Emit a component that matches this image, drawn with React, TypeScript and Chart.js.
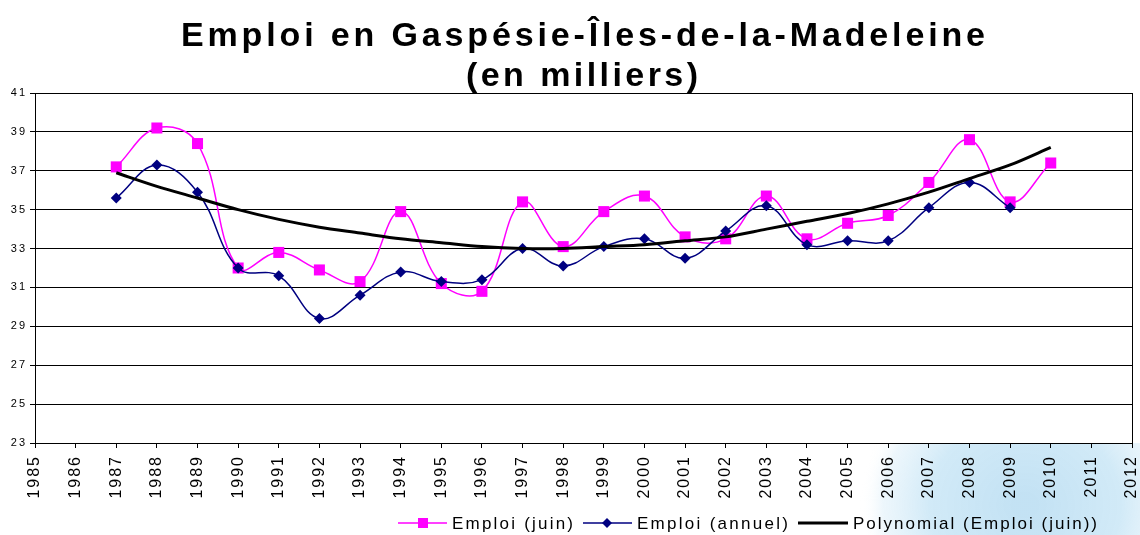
import React, { useEffect, useRef } from 'react';
import { Chart, registerables } from 'chart.js';

Chart.register(...registerables);

// ---- data ----
const years = [1987, 1988, 1989, 1990, 1991, 1992, 1993, 1994, 1995, 1996, 1997, 1998, 1999, 2000, 2001, 2002, 2003, 2004, 2005, 2006, 2007, 2008, 2009, 2010];
const emploiJuin = [37.2, 39.2, 38.4, 32.0, 32.8, 31.9, 31.3, 34.9, 31.2, 30.8, 35.4, 33.1, 34.9, 35.7, 33.6, 33.5, 35.7, 33.5, 34.3, 34.7, 36.4, 38.6, 35.4, 37.4];
const emploiAnnuel = [35.6, 37.3, 35.9, 32.0, 31.6, 29.4, 30.6, 31.8, 31.3, 31.4, 33.0, 32.1, 33.1, 33.5, 32.5, 33.9, 35.2, 33.2, 33.4, 33.4, 35.1, 36.4, 35.1];
const polyTrend = [36.9, 36.2, 35.6, 35.0, 34.5, 34.1, 33.8, 33.5, 33.3, 33.1, 33.0, 33.0, 33.1, 33.2, 33.4, 33.6, 34.0, 34.4, 34.8, 35.3, 35.9, 36.6, 37.3, 38.2];
const xMin = 1985;
const xMax = 2012;
const yMin = 23;
const yMax = 41;
const yStep = 2;

const titleLines = ['Emploi en Gaspésie-Îles-de-la-Madeleine', '(en milliers)'];
const legendLabels = ['Emploi (juin)', 'Emploi (annuel)', 'Polynomial (Emploi (juin))'];

const PINK = '#FF00FF';
const NAVY = '#000080';
const FONT = "'Liberation Sans', Arial, sans-serif";

function drawFitted(ctx: CanvasRenderingContext2D, text: string, x: number, y: number, targetW: number) {
  (ctx as any).letterSpacing = '0px';
  const w = ctx.measureText(text).width;
  const n = Array.from(text).length;
  const s = (targetW - w) / Math.max(1, n - 1);
  (ctx as any).letterSpacing = s + 'px';
  ctx.fillText(text, x, y);
  (ctx as any).letterSpacing = '0px';
}

const decorPlugin = {
  id: 'decor',
  beforeDraw(chart: any) {
    const ctx: CanvasRenderingContext2D = chart.ctx;
    const ca = chart.chartArea;
    ctx.save();
    // faint watermark (bottom right, below the plot)
    ctx.beginPath();
    ctx.rect(0, ca.bottom, 1140, 535 - ca.bottom);
    ctx.clip();
    ctx.translate(1025, 505);
    ctx.scale(1.1, 1);
    const g = ctx.createRadialGradient(0, 0, 10, 0, 0, 150);
    g.addColorStop(0, 'rgba(175,216,240,0.75)');
    g.addColorStop(0.55, 'rgba(190,225,244,0.7)');
    g.addColorStop(0.85, 'rgba(215,236,248,0.45)');
    g.addColorStop(1, 'rgba(255,255,255,0)');
    ctx.fillStyle = g;
    ctx.beginPath();
    ctx.arc(0, 0, 150, 0, Math.PI * 2);
    ctx.fill();
    ctx.restore();
    ctx.save();
    ctx.fillStyle = '#ffffff';
    ctx.fillRect(ca.left, ca.top, ca.right - ca.left, ca.bottom - ca.top);
    ctx.restore();
    (ctx as any).letterSpacing = '2px';
  },
  afterDraw(chart: any) {
    const ctx: CanvasRenderingContext2D = chart.ctx;
    const ca = chart.chartArea;
    ctx.save();
    (ctx as any).letterSpacing = '0px';
    // frame
    ctx.strokeStyle = '#000';
    ctx.lineWidth = 1;
    ctx.beginPath();
    ctx.moveTo(Math.round(ca.right) + 0.5, ca.top);
    ctx.lineTo(Math.round(ca.right) + 0.5, ca.bottom);
    ctx.stroke();

    // title
    ctx.fillStyle = '#000';
    ctx.textAlign = 'left';
    ctx.textBaseline = 'alphabetic';
    ctx.font = `bold 34px ${FONT}`;
    drawFitted(ctx, titleLines[0], 181, 46, 804);
    drawFitted(ctx, titleLines[1], 466, 86, 232);

    // legend
    const ly = 523;
    ctx.font = `17px ${FONT}`;
    // item 1
    ctx.strokeStyle = PINK;
    ctx.lineWidth = 1.5;
    ctx.beginPath();
    ctx.moveTo(398, ly);
    ctx.lineTo(447, ly);
    ctx.stroke();
    ctx.fillStyle = PINK;
    ctx.fillRect(418, ly - 5, 10, 10);
    ctx.fillStyle = '#000';
    drawFitted(ctx, legendLabels[0], 452, ly + 6, 121);
    // item 2
    ctx.strokeStyle = NAVY;
    ctx.beginPath();
    ctx.moveTo(583, ly);
    ctx.lineTo(632, ly);
    ctx.stroke();
    ctx.fillStyle = NAVY;
    ctx.beginPath();
    ctx.moveTo(607, ly - 5);
    ctx.lineTo(612, ly);
    ctx.lineTo(607, ly + 5);
    ctx.lineTo(602, ly);
    ctx.closePath();
    ctx.fill();
    ctx.fillStyle = '#000';
    drawFitted(ctx, legendLabels[1], 637, ly + 6, 151);
    // item 3
    ctx.strokeStyle = '#000';
    ctx.lineWidth = 3;
    ctx.beginPath();
    ctx.moveTo(798, ly);
    ctx.lineTo(848, ly);
    ctx.stroke();
    drawFitted(ctx, legendLabels[2], 853, ly + 6, 244);
    ctx.restore();
  },
};

export default function App() {
  const ref = useRef<HTMLCanvasElement | null>(null);

  useEffect(() => {
    if (!ref.current) return;
    const chart = new Chart(ref.current, {
      type: 'line',
      data: {
        datasets: [
          {
            label: legendLabels[0],
            data: years.map((x, i) => ({ x, y: emploiJuin[i] })),
            borderColor: PINK,
            backgroundColor: PINK,
            borderWidth: 1.5,
            tension: 0.4,
            pointStyle: 'rect',
            pointRadius: 7.8,
            pointBorderWidth: 0,
            fill: false,
            order: 3,
          },
          {
            label: legendLabels[1],
            data: emploiAnnuel.map((y, i) => ({ x: years[i], y })),
            borderColor: NAVY,
            backgroundColor: NAVY,
            borderWidth: 1.5,
            tension: 0.4,
            pointStyle: 'rectRot',
            pointRadius: 5.5,
            pointBorderWidth: 0,
            fill: false,
            order: 2,
          },
          {
            label: legendLabels[2],
            data: years.map((x, i) => ({ x, y: polyTrend[i] })),
            borderColor: '#000',
            backgroundColor: '#000',
            borderWidth: 3,
            tension: 0.3,
            pointRadius: 0,
            fill: false,
            order: 1,
          },
        ],
      },
      options: {
        animation: false,
        responsive: false,
        devicePixelRatio: 1,
        layout: { padding: { left: 0, right: 8, top: 93, bottom: 32 } },
        plugins: {
          legend: { display: false },
          title: { display: false },
          tooltip: { enabled: false },
        },
        scales: {
          x: {
            type: 'linear',
            min: xMin,
            max: xMax,
            afterFit: (s: any) => { s.height = 60; s.paddingLeft = 0; s.paddingRight = 0; },
            ticks: {
              stepSize: 1,
              autoSkip: false,
              maxRotation: 90,
              minRotation: 90,
              padding: 7,
              color: '#000',
              font: { family: FONT, size: 16 },
              callback: (v: any) => String(v),
            },
            grid: { drawOnChartArea: false, drawTicks: true, tickLength: 5, color: '#000' },
            border: { color: '#000', width: 1 },
          },
          y: {
            min: yMin,
            max: yMax,
            afterFit: (s: any) => { s.width = 35; s.paddingTop = 0; s.paddingBottom = 0; },
            ticks: {
              stepSize: yStep,
              padding: 3,
              color: '#000',
              font: { family: FONT, size: 11 },
            },
            grid: { color: '#000', lineWidth: 1, tickLength: 5 },
            border: { color: '#000', width: 1 },
          },
        },
      },
      plugins: [decorPlugin],
    } as any);
    return () => chart.destroy();
  }, []);

  return (
    <div style={{ position: 'fixed', left: 0, top: 0, width: 1140, height: 535, background: '#fff' }}>
      <canvas ref={ref} width={1140} height={535} style={{ display: 'block', width: 1140, height: 535 }} />
    </div>
  );
}
